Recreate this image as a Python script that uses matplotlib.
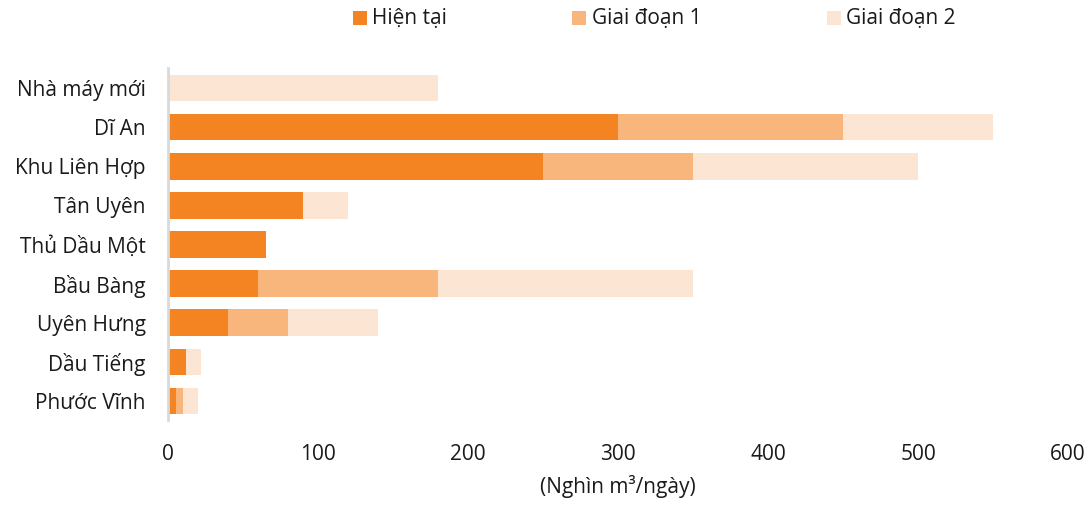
import matplotlib
matplotlib.use("Agg")
import matplotlib.pyplot as plt
from matplotlib.patches import Rectangle

plt.rcParams['font.family'] = ['Open Sans', 'Noto Sans', 'DejaVu Sans']

categories = ["Nhà máy mới", "Dĩ An", "Khu Liên Hợp", "Tân Uyên", "Thủ Dầu Một",
              "Bầu Bàng", "Uyên Hưng", "Dầu Tiếng", "Phước Vĩnh"]
hien_tai = [0, 300, 250, 90, 65, 60, 40, 12, 5]
giai_doan_1 = [0, 150, 100, 0, 0, 120, 40, 0, 5]
giai_doan_2 = [180, 100, 150, 30, 0, 170, 60, 10, 10]
series_names = ["Hiện tại", "Giai đoạn 1", "Giai đoạn 2"]
xticks = [0, 100, 200, 300, 400, 500, 600]

colors = ["#F48422", "#F8B67C", "#FDE5D3"]
W, H = 1092, 505
FS = 15
txt = '#1a1a1a'

fig = plt.figure(figsize=(W/100, H/100), dpi=100)
ax_top, ax_bot = 68.5, 420.5
ax = fig.add_axes([168/W, 1 - ax_bot/H, 900/W, (ax_bot-ax_top)/H])

y = list(range(len(categories)))
left = [0]*len(categories)
for vals, c in zip([hien_tai, giai_doan_1, giai_doan_2], colors):
    ax.barh(y, vals, left=left, height=0.68, color=c, edgecolor='none')
    left = [a + b for a, b in zip(left, vals)]

ax.set_ylim(len(categories) - 0.5, -0.5)
ax.set_xlim(0, 600)
ax.set_yticks(y)
ax.set_yticklabels(categories, fontsize=FS, color=txt)
ax.set_xticks(xticks)
ax.set_xticklabels([str(t) for t in xticks], fontsize=FS, color=txt)
ax.tick_params(axis='both', length=0)
ax.tick_params(axis='x', pad=17)
ax.tick_params(axis='y', pad=16)
for s in ['top', 'right', 'bottom']:
    ax.spines[s].set_visible(False)
ax.spines['left'].set_color('#D9D9D9')
ax.spines['left'].set_linewidth(2)
ax.set_xlabel("(Nghìn m³/ngày)", fontsize=FS, color=txt, labelpad=7)

# legend drawn in figure pixel positions
sq_x = [353, 572, 827]
txt_x = [372, 592, 846]
for sx, tx, c, name in zip(sq_x, txt_x, colors, series_names):
    fig.patches.append(Rectangle((sx/W, 1 - 25/H), 14/W, 14/H, transform=fig.transFigure,
                                 facecolor=c, edgecolor='none'))
    fig.text(tx/W, 1 - 18/H, name, fontsize=FS, color=txt, ha='left', va='center')

fig.savefig("out.png", dpi=100)
